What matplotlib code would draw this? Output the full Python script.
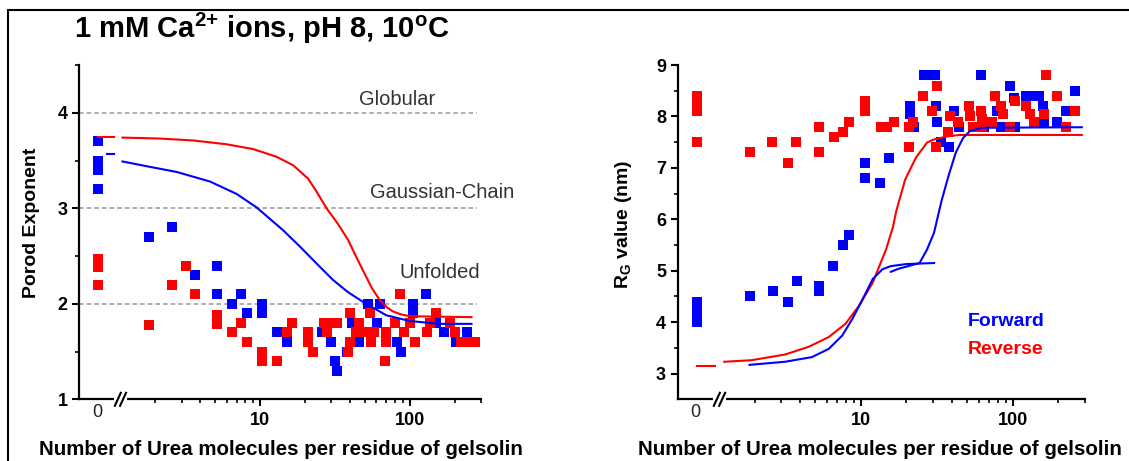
import numpy as np
import matplotlib
matplotlib.use("Agg")
import matplotlib.pyplot as plt
from matplotlib.patches import Rectangle

plt.rcParams['font.family'] = ['Liberation Sans', 'DejaVu Sans']
plt.rcParams['mathtext.fontset'] = 'custom'
plt.rcParams['mathtext.rm'] = 'Liberation Sans'
plt.rcParams['mathtext.bf'] = 'Liberation Sans:bold'
plt.rcParams['mathtext.it'] = 'Liberation Sans:italic'

BLUE = '#0000ff'
RED = '#ff0000'

"Porod exponent, forward (blue) points"
porod_fwd_x = [0, 0, 0, 0, 0, 1.83, 2.58, 3.69, 5.14, 5.14, 6.48, 7.47, 8.15, 10.4, 10.4, 10.4,
               13.1, 15.1, 26, 30, 32, 33, 38, 41, 46, 53, 61, 63, 82, 88, 105, 105, 129, 150,
               170, 205, 240]
porod_fwd_y = [3.7, 3.5, 3.45, 3.4, 3.2, 2.7, 2.8, 2.3, 2.4, 2.1, 2.0, 2.1, 1.9, 2.0, 1.95, 1.9,
               1.7, 1.6, 1.7, 1.6, 1.4, 1.3, 1.5, 1.8, 1.6, 2.0, 1.8, 2.0, 1.6, 1.5, 2.0, 1.9, 2.1, 1.8,
               1.7, 1.6, 1.7]

"Porod exponent, reverse (red) points"
porod_rev_x = [0, 0, 0, 0, 1.83, 2.58, 3.21, 3.69, 5.14, 5.14, 5.14, 6.48, 7.47, 8.15, 10.4, 10.4,
               10.4, 13.1, 15.1, 16.4, 21, 21, 22.5, 27, 30, 33, 28, 40, 40, 39, 46, 44, 50, 54,
               55, 58, 68, 70, 70, 80, 86, 100, 92, 108, 150, 136, 185, 200, 130, 220, 250, 275]
porod_rev_y = [2.47, 2.43, 2.39, 2.2, 1.78, 2.2, 2.4, 2.1, 1.88, 1.83, 1.79, 1.7, 1.8, 1.6, 1.5, 1.45,
               1.4, 1.4, 1.7, 1.8, 1.7, 1.6, 1.5, 1.8, 1.8, 1.8, 1.7, 1.9, 1.6, 1.5, 1.8, 1.7, 1.7, 1.9,
               1.6, 1.7, 1.4, 1.7, 1.6, 1.8, 2.1, 1.8, 1.7, 1.6, 1.9, 1.8, 1.8, 1.7, 1.7, 1.6, 1.6, 1.6]

"Porod fits"
porod_fit_fwd_x0 = [0.72, 1.06]
porod_fit_fwd_y0 = [3.57, 3.57]
porod_fit_fwd_x = [1.21, 1.76, 2.79, 4.65, 7.0, 9.5, 14.3, 18.5, 24, 30.8, 38.9, 48.9, 69.8, 100, 158, 259]
porod_fit_fwd_y = [3.49, 3.44, 3.38, 3.28, 3.15, 3.01, 2.77, 2.60, 2.42, 2.25, 2.12, 2.02, 1.88, 1.82, 1.79, 1.79]
porod_fit_rev_x0 = [0, 1.06]
porod_fit_rev_y0 = [3.75, 3.75]
porod_fit_rev_x = [1.21, 2.15, 3.59, 6.0, 9.0, 12.9, 16.7, 21.0, 24.0, 27.9, 33.1, 38.8, 44.7, 51.4,
                   56.2, 63.1, 70.8, 77.4, 87.1, 100, 259]
porod_fit_rev_y = [3.74, 3.73, 3.71, 3.67, 3.62, 3.54, 3.45, 3.31, 3.17, 3.0, 2.84, 2.67, 2.47, 2.28,
                   2.16, 2.04, 1.96, 1.92, 1.89, 1.87, 1.86]

porod_levels = [4, 3, 2]
porod_level_names = ['Globular', 'Gaussian-Chain', 'Unfolded']
porod_level_text_x = [82, 166, 159]
porod_level_text_y = [4.08, 3.11, 2.27]

"Radius of gyration, forward (blue) points"
rg_fwd_x = [0, 0, 0, 0, 1.87, 2.65, 3.3, 3.8, 5.3, 5.3, 6.6, 7.6, 8.4, 10.7, 10.7, 13.4, 15.3, 21, 21,
            22.5, 26, 28.5, 31, 31.5, 32, 34, 38, 41, 44.5, 62, 65, 79, 84, 96, 102, 104, 123, 137,
            150, 158, 162, 196, 225, 258]
rg_fwd_y = [4.4, 4.2, 4.1, 4.0, 4.5, 4.6, 4.4, 4.8, 4.7, 4.6, 5.1, 5.5, 5.7, 7.1, 6.8, 6.7, 7.2, 8.2, 8.05,
            7.8, 8.8, 8.8, 8.8, 8.2, 7.9, 7.5, 7.4, 8.1, 7.8, 8.8, 7.8, 8.1, 7.8, 8.6, 8.35, 7.8, 8.4, 8.4,
            8.4, 8.2, 7.9, 7.9, 8.1, 8.5]

"Radius of gyration, reverse (red) points"
rg_rev_x = [0, 0, 0, 0, 0, 1.87, 2.62, 3.3, 3.77, 5.3, 5.3, 6.65, 7.64, 8.37, 10.7, 10.7, 10.7, 13.5,
            15, 16.5, 20.7, 20.7, 22, 25.8, 29.6, 32, 31.3, 38.9, 37.6, 43.5, 51.3, 52.6, 55.3, 61.6,
            63, 63, 73, 77, 84, 87, 96, 104.5, 123, 130, 139, 162, 166, 196, 225, 258]
rg_rev_y = [8.4, 8.3, 8.2, 8.1, 7.5, 7.3, 7.5, 7.1, 7.5, 7.8, 7.3, 7.6, 7.7, 7.9, 8.3, 8.2, 8.1, 7.8,
            7.8, 7.9, 7.8, 7.4, 7.9, 8.4, 8.1, 8.6, 7.4, 8.0, 7.7, 7.9, 8.2, 8.0, 7.8, 8.1,
            7.95, 7.8, 7.9, 8.4, 8.2, 8.05, 7.8, 8.3, 8.2, 8.05, 7.9, 8.05, 8.8, 8.4, 7.8, 8.1]

"Rg fits"
rg_fit_rev_x0 = [0, 1.1]
rg_fit_rev_y0 = [3.14, 3.14]
rg_fit_rev_x = [1.26, 1.9, 3.16, 4.53, 6.15, 7.94, 9.75, 12.0, 14.7, 16.3, 17.1, 19.6, 23.1, 27.3,
                30.1, 36.9, 44.7, 286]
rg_fit_rev_y = [3.23, 3.26, 3.37, 3.52, 3.71, 3.97, 4.32, 4.77, 5.42, 5.85, 6.15, 6.77, 7.2, 7.49,
                7.55, 7.61, 7.64, 7.64]
rg_fit_fwd_a_x = [1.85, 3.16, 4.76, 6.15, 7.55, 8.79, 10.3, 12.0, 13.9, 15.8, 20, 30.4]
rg_fit_fwd_a_y = [3.17, 3.23, 3.32, 3.48, 3.74, 4.06, 4.45, 4.84, 5.03, 5.09, 5.13, 5.15]
rg_fit_fwd_b_x = [15.8, 17.8, 20, 24.4, 27.3, 30.4, 34, 37.9, 42.3, 47.2, 52.6, 63.1, 286]
rg_fit_fwd_b_y = [4.98, 5.04, 5.08, 5.15, 5.41, 5.74, 6.35, 6.85, 7.3, 7.58, 7.72, 7.78, 7.79]

"Axis: 0 drawn left of a break, then log10 from ~1.2 up to 300"
ZERO_POS = -0.08


def fwd(x):
    x = np.asarray(x, dtype=float)
    return np.where(x >= 1, np.log10(np.maximum(x, 1)), ZERO_POS * (1 - x))


def inv(u):
    u = np.asarray(u, dtype=float)
    return np.where(u >= 0, 10 ** np.minimum(u, 10), 1 - u / ZERO_POS)


XLIM = (-1.59, 300)
x_major = [10, 100]
x_minor = [2, 3, 4, 5, 6, 7, 8, 9, 20, 30, 40, 50, 60, 70, 80, 90, 200, 300]

fig = plt.figure(figsize=(11.29, 4.61), dpi=100)
ax1 = fig.add_axes([0.0700, 0.1338, 0.3561, 0.7252])
ax2 = fig.add_axes([0.6001, 0.1338, 0.3609, 0.7252])

for ax in (ax1, ax2):
    ax.set_xscale('function', functions=(fwd, inv))
    ax.set_xlim(*XLIM)
    ax.set_xticks(x_major)
    ax.set_xticklabels([str(v) for v in x_major])
    ax.set_xticks(x_minor, minor=True)
    ax.xaxis.set_minor_formatter(plt.NullFormatter())
    for side in ('top', 'right'):
        ax.spines[side].set_visible(False)
    for side in ('left', 'bottom'):
        ax.spines[side].set_linewidth(1.6)
    ax.tick_params(which='major', direction='out', length=4.8, width=1.5, labelsize=13, pad=3.5)
    ax.tick_params(which='minor', direction='out', length=3, width=1.2)
    ax.tick_params(axis='x', which='major', pad=4)
    # the "0" group sits left of the axis break
    ax.text(-0.1, -0.04, '0', transform=ax.get_xaxis_transform(), ha='center', va='center',
            fontsize=13, color='#222222')
    # break marks
    cx = 0.103
    sx, sy = 3.0 / 405, 6.5 / 334
    ax.plot([cx - 0.012, cx + 0.012], [0, 0], color='white', lw=3, transform=ax.transAxes,
            clip_on=False, zorder=5)
    for dx in (-0.0065, 0.0065):
        ax.plot([cx + dx - sx, cx + dx + sx], [-sy, sy], color='black', lw=1.5,
                transform=ax.transAxes, clip_on=False, zorder=6)
    ax.set_xlabel('Number of Urea molecules per residue of gelsolin', fontsize=14.8, fontweight='bold')

# ---- left: Porod exponent ----
ax1.set_ylim(1, 4.5)
ax1.set_yticks([1, 2, 3, 4])
ax1.set_yticks([1.5, 2.5, 3.5, 4.5], minor=True)
for lev in porod_levels:
    ax1.axhline(lev, xmin=0, xmax=0.99, color='#999999', lw=1.1, ls=(0, (3, 2)), zorder=1)
for name, tx, ty in zip(porod_level_names, porod_level_text_x, porod_level_text_y):
    ax1.text(tx, ty, name, ha='center', va='baseline', fontsize=14.5, color='#333333')
ax1.plot(porod_fwd_x, porod_fwd_y, 's', ms=7.2, mew=0, color=BLUE, zorder=3)
ax1.plot(porod_rev_x, porod_rev_y, 's', ms=7.2, mew=0, color=RED, zorder=3)
ax1.plot(porod_fit_fwd_x0, porod_fit_fwd_y0, color=BLUE, lw=1.5, zorder=4)
ax1.plot(porod_fit_fwd_x, porod_fit_fwd_y, color=BLUE, lw=1.5, zorder=4)
ax1.plot(porod_fit_rev_x0, porod_fit_rev_y0, color=RED, lw=1.5, zorder=4)
ax1.plot(porod_fit_rev_x, porod_fit_rev_y, color=RED, lw=1.5, zorder=4)
ax1.set_ylabel('Porod Exponent', fontsize=14, fontweight='bold')
ax1.yaxis.set_label_coords(-0.097, 0.527)
ax1.xaxis.set_label_coords(0.502, -0.122)

# ---- right: radius of gyration ----
ax2.set_ylim(2.5, 9)
ax2.set_yticks([3, 4, 5, 6, 7, 8, 9])
ax2.set_yticks([3.5, 4.5, 5.5, 6.5, 7.5, 8.5], minor=True)
ax2.plot(rg_fwd_x, rg_fwd_y, 's', ms=7.2, mew=0, color=BLUE, zorder=3)
ax2.plot(rg_rev_x, rg_rev_y, 's', ms=7.2, mew=0, color=RED, zorder=3)
ax2.plot(rg_fit_rev_x0, rg_fit_rev_y0, color=RED, lw=1.5, zorder=4)
ax2.plot(rg_fit_rev_x, rg_fit_rev_y, color=RED, lw=1.5, zorder=4)
ax2.plot(rg_fit_fwd_a_x, rg_fit_fwd_a_y, color=BLUE, lw=1.5, zorder=4)
ax2.plot(rg_fit_fwd_b_x, rg_fit_fwd_b_y, color=BLUE, lw=1.5, zorder=4)
ax2.text(51, 3.92, 'Forward', color=BLUE, fontsize=14, fontweight='bold', ha='left', va='baseline')
ax2.text(51, 3.39, 'Reverse', color=RED, fontsize=14, fontweight='bold', ha='left', va='baseline')
ax2.set_ylabel(r'R$_{\mathbf{G}}$ value (nm)', fontsize=14, fontweight='bold')
ax2.yaxis.set_label_coords(-0.107, 0.522)
ax2.xaxis.set_label_coords(0.497, -0.122)

for ax in (ax1, ax2):
    plt.setp(ax.get_xticklabels() + ax.get_yticklabels(), fontweight='bold')

fig.text(73.8 / 1129, 1 - 38.3 / 461, r'1 mM Ca$^{\mathbf{2{+}}}$ ions, pH 8, 10$^{\mathbf{o}}$C',
         fontsize=21, fontweight='bold', ha='left', va='baseline')

# frame around the figure (right and bottom edges fall outside the image)
fig.add_artist(Rectangle((8 / 1129, -0.5), 2, 0.5 + 1 - 10 / 461, transform=fig.transFigure,
                         fill=False, lw=1.5, edgecolor='black'))

fig.savefig('out.png', dpi=100)
